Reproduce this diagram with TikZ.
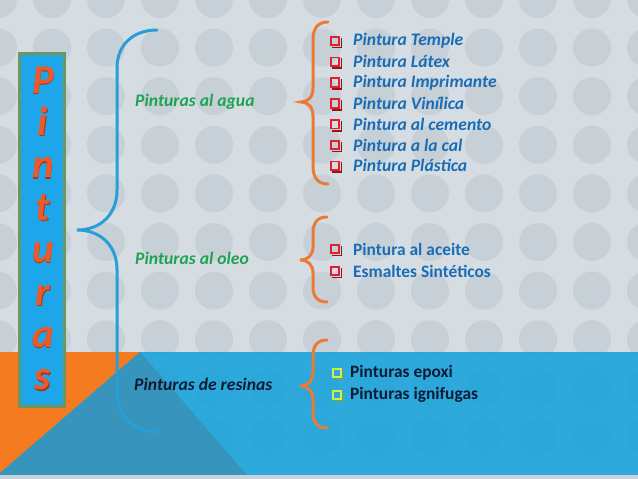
\documentclass[tikz,border=0pt]{standalone}
\usepackage{fontspec}
\setmainfont{Carlito}
\usetikzlibrary{calc}
\definecolor{bg}{HTML}{D5DDE3}
\definecolor{dot}{HTML}{C8D0D7}
\definecolor{band}{HTML}{2DA9DC}
\definecolor{orng}{HTML}{F47B20}
\definecolor{dblue}{HTML}{3794BC}
\definecolor{strip}{HTML}{C9D2D9}
\definecolor{brblue}{HTML}{2A9ED6}
\definecolor{brorange}{HTML}{EC7A35}
\definecolor{lblgreen}{HTML}{1EA352}
\definecolor{itemblue}{HTML}{1A6DB5}
\definecolor{navy}{HTML}{0C1B36}
\definecolor{boxblue}{HTML}{1DA7EA}
\definecolor{boxedge}{HTML}{6F955F}
\definecolor{letter}{HTML}{EA5A2B}
\definecolor{letterdk}{HTML}{A9361A}
\definecolor{chkred}{HTML}{E0202A}
\definecolor{chkreddk}{HTML}{9A1218}
\definecolor{chkyel}{HTML}{D2F04A}
\definecolor{chkyeldk}{HTML}{8AA030}
\tikzset{
  ltr/.style={anchor=base, inner sep=0pt, text=letter, font=\fontsize{41}{41}\selectfont\bfseries\itshape},
  ltrsh/.style={ltr, text=letterdk},
  bbrace/.style={draw=brblue, line width=3pt, line cap=round},
  obrace/.style={draw=brorange, line width=3pt, line cap=round},
  lbl/.style={anchor=west, inner sep=0pt, font=\fontsize{17.6}{17.6}\selectfont\bfseries\itshape},
  itemi/.style={anchor=west, inner sep=0pt, text=itemblue, font=\fontsize{17.6}{17.6}\selectfont\bfseries\itshape},
  itemu/.style={anchor=west, inner sep=0pt, font=\fontsize{17.4}{17.4}\selectfont\bfseries},
  chkbox/.style={draw=#1, line width=1.8pt, minimum size=8.5pt, inner sep=0pt},
  chkshadow/.style={draw=#1, line width=1.8pt},
}
\newcommand{\checkbox}[5]{% name, x, y, colour, shadow colour
  \node[chkbox=#4] (#1) at (#2,#3) {};
  \draw[chkshadow=#5] ($(#1.south west)+(1.8pt,-1.4pt)$) -- ($(#1.south east)+(1.4pt,-1.4pt)$) -- ($(#1.north east)+(1.4pt,-1.8pt)$);
}
\begin{document}
\begin{tikzpicture}[x=1pt,y=-1pt]
\useasboundingbox (0,0) rectangle (638,479);
% background
\fill[bg] (0,0) rectangle (638,479);
\foreach \i in {0,...,12} \foreach \j in {0,...,9}
  \fill[dot] (-2+54*\i,-1+48.6*\j) circle[radius=19];
% band
\fill[band] (0,352) rectangle (638,475);
\begin{scope}
  \clip (0,352) rectangle (638,475);
  \foreach \i in {0,...,12} \foreach \j in {7,...,9}
    \fill[black, opacity=0.012] (-2+54*\i,-1+48.6*\j) circle[radius=19];
\end{scope}
\fill[orng] (0,352) -- (140,352) -- (0,473) -- cycle;
\fill[dblue] (140,352) -- (247,475) -- (0,475) -- (0,473) -- cycle;
\fill[strip] (0,475) rectangle (638,479);
% vertical title box
\node[draw=boxedge, line width=3pt, fill=boxblue, minimum width=45pt, minimum height=353pt] (box) at (42,230) {};
\foreach \c/\k in {P/0,i/1,n/2,t/3,u/4,r/5,a/6,s/7}{
  \node[ltrsh] (s\k) at (43.8,94.2+42.4*\k) {\c};
  \node[ltr] (l\k) at (43,93+42.4*\k) {\c};
}
% blue brace
\coordinate (bt) at (157,30);
\coordinate (btip) at (77,230);
\coordinate (bb) at (157,432);
\draw[bbrace] (bt) .. controls (133,30) and (117,45) .. (117,68) -- (117,190)
  .. controls (117,215) and (100,230) .. (btip)
  .. controls (100,230) and (117,245) .. (117,270) -- (117,392)
  .. controls (117,415) and (133,432) .. (bb);
% labels
\node[lbl, text=lblgreen] (agua) at (135,102) {Pinturas al agua};
\node[lbl, text=lblgreen] (oleo) at (135,258) {Pinturas al oleo};
\node[lbl, text=navy] (resinas) at (134,384) {Pinturas de resinas};
% orange braces
\coordinate (o1t) at (328,22);
\coordinate (o1tip) at (301,102);
\coordinate (o1b) at (328,184);
\draw[obrace] (o1t) .. controls (318,22) and (313,28) .. (313,40) -- (313,88)
  .. controls (313,97) and (308,102) .. (o1tip)
  .. controls (308,102) and (313,107) .. (313,116) -- (313,166)
  .. controls (313,178) and (318,184) .. (o1b);
\coordinate (o2t) at (327,217);
\coordinate (o2tip) at (300,260);
\coordinate (o2b) at (327,302);
\draw[obrace] (o2t) .. controls (318,217) and (313,222) .. (313,233) -- (313,247)
  .. controls (313,255) and (308,260) .. (o2tip)
  .. controls (308,260) and (313,265) .. (313,273) -- (313,287)
  .. controls (313,297) and (318,302) .. (o2b);
\coordinate (o3t) at (327,340);
\coordinate (o3tip) at (300,386);
\coordinate (o3b) at (327,428);
\draw[obrace] (o3t) .. controls (318,340) and (313,345) .. (313,356) -- (313,372)
  .. controls (313,381) and (308,386) .. (o3tip)
  .. controls (308,386) and (313,391) .. (313,400) -- (313,413)
  .. controls (313,423) and (318,428) .. (o3b);
% list 1
\foreach \t [count=\n from 0] in {Pintura Temple,Pintura Látex,Pintura Imprimante,Pintura Vinílica,Pintura al cemento,Pintura a la cal,Pintura Plástica}{
  \checkbox{ca\n}{335}{41+20.8*\n}{chkred}{chkreddk}
  \node[itemi] (ia\n) at (353,41+20.8*\n) {\t};
}
% list 2
\checkbox{cb0}{335}{249}{chkred}{chkreddk}
\node[itemu, text=itemblue] (ib0) at (353,249) {Pintura al aceite};
\checkbox{cb1}{335}{271}{chkred}{chkreddk}
\node[itemu, text=itemblue] (ib1) at (353,271) {Esmaltes Sintéticos};
% list 3
\checkbox{cc0}{337}{373}{chkyel}{chkyeldk}
\node[itemu, text=navy] (ic0) at (350,373) {Pinturas epoxi};
\checkbox{cc1}{337}{395}{chkyel}{chkyeldk}
\node[itemu, text=navy] (ic1) at (350,395) {Pinturas ignifugas};
\end{tikzpicture}
\end{document}
